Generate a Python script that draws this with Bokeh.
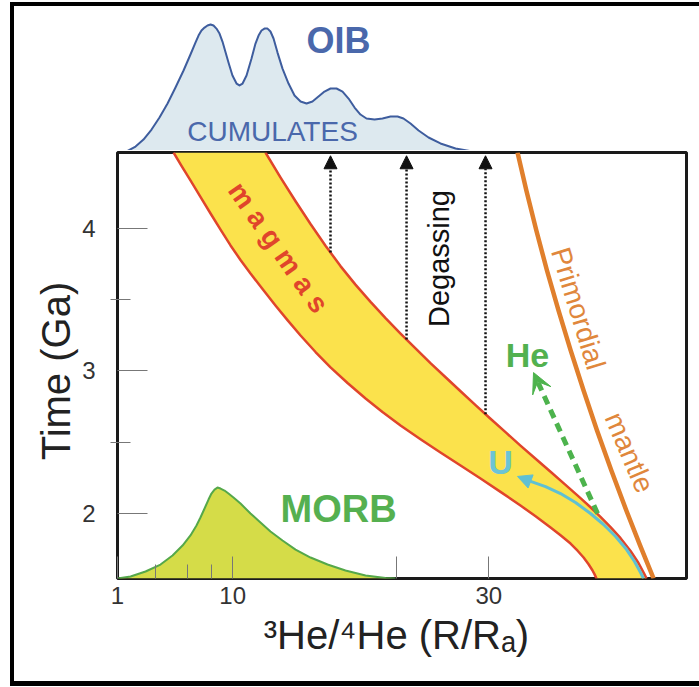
import numpy as np
from bokeh.plotting import figure
from bokeh.layouts import column, row
from bokeh.models import (ColumnDataSource, FixedTicker, Arrow, NormalHead, VeeHead, Range1d, Spacer)
from bokeh.embed import file_html
from bokeh.resources import INLINE
from bokeh.core.properties import value

FONT = "Liberation Sans"

# ---------------- data ----------------
x_ticks = [1, 10, 22.8, 30]
x_tick_labels = {1: "1", 10: "10", 22.8: "", 30: "30"}
x_minor_ticks = [3.97, 6.47, 8.34]
y_ticks = [2, 3, 4]
y_minor_ticks = [2.5, 3.5]

# OIB distribution (relative frequency), drawn above the main panel
oib_x = [1.39, 1.86, 2.41, 3.03, 3.66, 4.28, 4.91, 5.53, 6.16, 6.70, 7.09, 7.33, 7.56, 7.80,
         8.03, 8.27, 8.50, 8.73, 8.97, 9.20, 9.67, 9.98, 10.30, 10.53, 10.77, 11.08, 11.47,
         11.78, 12.02, 12.25, 12.48, 12.72, 12.95, 13.19, 13.50, 13.89, 14.36, 14.83, 15.30,
         15.77, 16.23, 16.70, 17.17, 17.64, 18.11, 18.58, 19.05, 19.52, 19.98, 20.45, 21.08,
         21.70, 22.33, 22.88, 23.34, 23.89, 24.52, 25.30, 26.23, 27.41, 28.73, 30.14]
oib_f = [0.0, 0.016, 0.047, 0.102, 0.181, 0.276, 0.386, 0.512, 0.646, 0.772, 0.866, 0.921,
         0.961, 0.984, 1.000, 1.008, 1.000, 0.976, 0.937, 0.874, 0.709, 0.606, 0.543, 0.528,
         0.543, 0.606, 0.740, 0.858, 0.921, 0.961, 0.976, 0.976, 0.953, 0.898, 0.787, 0.661,
         0.543, 0.449, 0.402, 0.386, 0.402, 0.441, 0.480, 0.504, 0.504, 0.480, 0.425, 0.354,
         0.299, 0.268, 0.260, 0.268, 0.283, 0.283, 0.268, 0.228, 0.173, 0.118, 0.071, 0.031,
         0.008, 0.0]

# MORB distribution (hump on the time axis)
morb_x = [1.00, 2.02, 3.19, 4.36, 5.30, 6.08, 6.70, 7.17, 7.48, 7.80, 8.11, 8.34, 8.58, 8.81,
          9.05, 9.36, 9.67, 10.06, 10.61, 11.39, 12.17, 12.95, 13.89, 14.91, 16.08, 17.41,
          18.81, 20.38, 21.94, 22.72]
morb_t = [1.544, 1.558, 1.593, 1.642, 1.705, 1.775, 1.846, 1.916, 1.972, 2.035, 2.098, 2.140,
          2.168, 2.182, 2.175, 2.161, 2.140, 2.112, 2.070, 2.000, 1.937, 1.874, 1.811, 1.747,
          1.691, 1.642, 1.600, 1.565, 1.547, 1.544]

# magma band boundaries
band_upper_x = [12.56, 13.73, 14.91, 16.08, 17.25, 18.42, 19.59, 20.77, 21.94, 23.11, 24.28,
                25.45, 26.63, 27.80, 28.97, 30.14, 31.31, 32.48, 33.66, 34.83, 36.00, 37.17,
                37.95, 38.73, 39.52, 40.30, 41.08, 41.70, 42.17, 42.33]
band_upper_t = [4.533, 4.359, 4.191, 4.031, 3.879, 3.736, 3.606, 3.485, 3.371, 3.263, 3.158,
                3.055, 2.956, 2.858, 2.761, 2.665, 2.571, 2.476, 2.384, 2.293, 2.201, 2.108,
                2.044, 1.977, 1.905, 1.827, 1.737, 1.653, 1.573, 1.544]
band_lower_x = [5.38, 6.00, 6.70, 7.48, 8.27, 9.05, 9.83, 10.61, 11.39, 12.33, 13.34, 14.28,
                15.30, 16.47, 17.64, 18.97, 20.38, 21.70, 23.11, 24.67, 26.23, 27.80, 29.36,
                30.92, 32.48, 33.66, 34.83, 35.61, 36.39, 36.94, 37.41, 37.80, 38.11, 38.27,
                38.42]
band_lower_t = [4.533, 4.439, 4.337, 4.221, 4.105, 3.992, 3.881, 3.779, 3.684, 3.575, 3.460,
                3.357, 3.249, 3.133, 3.025, 2.916, 2.807, 2.712, 2.618, 2.521, 2.428, 2.337,
                2.246, 2.152, 2.056, 1.981, 1.902, 1.847, 1.789, 1.739, 1.691, 1.644, 1.600,
                1.573, 1.544]

# primordial mantle
mantle_x = [32.25, 32.94, 33.72, 34.55, 35.45, 36.40, 37.41, 38.46, 39.58, 40.75, 41.83, 42.88]
mantle_t = [4.533, 4.267, 3.986, 3.705, 3.425, 3.144, 2.863, 2.582, 2.302, 2.021, 1.775, 1.544]

# degassing arrows
degas_x = [17.64, 23.58, 29.75]
degas_t0 = [3.832, 3.221, 2.697]
degas_t1 = [4.51, 4.51, 4.51]

# U (cyan) path
u_x = [42.09, 41.86, 41.39, 40.77, 39.91, 38.97, 37.95, 36.78, 35.61, 34.44, 33.27, 32.25]
u_t = [1.544, 1.586, 1.663, 1.747, 1.839, 1.923, 2.000, 2.077, 2.140, 2.189, 2.225, 2.260]

# He (green dashed) arrow
he_x0, he_t0, he_x1, he_t1 = 38.50, 2.000, 33.50, 2.989

# ---------------- figures ----------------
x_range = Range1d(1, 45.45)

top = figure(width=685, height=144, x_range=x_range, y_range=Range1d(0.0157, 1.15),
             x_axis_type=None, y_axis_type=None, output_backend="svg", toolbar_location=None,
             min_border_left=103, min_border_right=13, min_border_top=0, min_border_bottom=0)
top.grid.visible = False
top.outline_line_color = None

top.varea(x=oib_x, y1=[0] * len(oib_x), y2=oib_f, fill_color="#dde9ef")
top.line(oib_x, oib_f, line_color="#3e5d9e", line_width=2, line_join="round")
top.text(x=[18.27], y=[0.882], text=["OIB"], text_font=value(FONT), text_font_style="bold",
         text_font_size="36px", text_color="#4a68ab", text_align="center", text_baseline="middle")
top.text(x=[13.11], y=[0.165], text=["CUMULATES"], text_font=value(FONT),
         text_font_size="28px", text_color="#4a68ab", text_align="center", text_baseline="middle")

p = figure(width=685, height=531, x_range=x_range, y_range=Range1d(1.544, 4.533),
           output_backend="svg", toolbar_location=None,
           min_border_left=103, min_border_right=13, min_border_top=2, min_border_bottom=103)
p.grid.visible = False
p.outline_line_color = "#1a1a1a"
p.outline_line_width = 3

# MORB hump
p.varea(x=morb_x, y1=[1.544] * len(morb_x), y2=morb_t, fill_color="#d5dc48")
p.line(morb_x, morb_t, line_color="#55a84a", line_width=2, line_join="round")

# magma band
p.patch(band_upper_x + band_lower_x[::-1], band_upper_t + band_lower_t[::-1],
        fill_color="#fbe24c", line_color=None)
p.line(band_upper_x, band_upper_t, line_color="#e0452b", line_width=2.5, line_join="round")
p.line(band_lower_x, band_lower_t, line_color="#e0452b", line_width=2.5, line_join="round")

# primordial mantle
p.line(mantle_x, mantle_t, line_color="#e07f2c", line_width=4.5, line_join="round")

# degassing arrows
dsrc = ColumnDataSource(dict(x=degas_x, y0=degas_t0, y1=degas_t1))
p.add_layout(Arrow(source=dsrc, x_start="x", y_start="y0", x_end="x", y_end="y1",
                   line_color="#111111", line_width=2.5, line_dash="2 2",
                   end=NormalHead(size=13, fill_color="#111111", line_color="#111111")))

# U path
p.line(u_x[:-1], u_t[:-1], line_color="#5fc0d3", line_width=3, line_join="round")
p.add_layout(Arrow(x_start=u_x[-2], y_start=u_t[-2], x_end=u_x[-1], y_end=u_t[-1],
                   line_color="#5fc0d3", line_width=3,
                   end=NormalHead(size=14, fill_color="#5fc0d3", line_color="#5fc0d3")))

# He arrow
p.add_layout(Arrow(x_start=he_x0, y_start=he_t0, x_end=he_x1, y_end=he_t1,
                   line_color="#4db34d", line_width=5, line_dash="9 6",
                   end=VeeHead(size=20, fill_color="#4db34d", line_color="#4db34d")))

def label(x, y, t, size, color, bold=False, angle=0.0):
    p.text(x=[x], y=[y], text=[t], angle=angle, text_font=value(FONT),
           text_font_style="bold" if bold else "normal", text_font_size=size,
           text_color=color, text_align="center", text_baseline="middle")

label(13.58, 3.867, "m a g m a s", "28px", "#e0452b", bold=True, angle=np.deg2rad(-55))
label(26.08, 3.789, "Degassing", "29px", "#111111", angle=np.pi / 2)
label(37.00, 3.439, "Primordial", "28px", "#e0873c", angle=np.deg2rad(-73))
label(41.00, 2.428, "mantle", "28px", "#e0873c", angle=np.deg2rad(-67))
label(33.03, 3.109, "He", "34px", "#52b14f", bold=True)
label(30.92, 2.358, "U", "34px", "#6cc4d6", bold=True)
label(18.27, 2.035, "MORB", "38px", "#55b050", bold=True)

# axes
p.xaxis.ticker = FixedTicker(ticks=x_ticks, minor_ticks=x_minor_ticks)
p.xaxis.major_label_overrides = x_tick_labels
p.yaxis.ticker = FixedTicker(ticks=y_ticks, minor_ticks=y_minor_ticks)
for ax in (p.xaxis[0], p.yaxis[0]):
    ax.axis_line_color = None
    ax.major_tick_out = 0
    ax.major_tick_line_color = "#777777"
    ax.minor_tick_line_color = "#777777"
    ax.major_label_text_font = FONT
    ax.major_label_text_font_size = "24px"
    ax.major_label_text_color = "#333333"
    ax.axis_label_text_font = FONT
    ax.axis_label_text_font_style = "normal"
    ax.axis_label_text_color = "#222222"
p.xaxis.major_tick_in = 22
p.xaxis.minor_tick_in = 14
p.xaxis.minor_tick_out = 0
p.xaxis.major_label_standoff = 8
p.xaxis.axis_label = "³He/⁴He  (R/Rₐ)"
p.xaxis.axis_label_text_font_size = "40px"
p.xaxis.axis_label_standoff = 6
p.yaxis.major_tick_in = 30
p.yaxis.minor_tick_in = 13
p.yaxis.minor_tick_out = 7
p.yaxis.major_label_standoff = 15
p.yaxis.axis_label = "Time  (Ga)"
p.yaxis.axis_label_text_font_size = "40px"
p.yaxis.axis_label_standoff = 1

# outer black frame (left, top, bottom sides) built from black spacers
BLACK = {"background-color": "black"}
left_bar = Spacer(width=4, height=684, styles=BLACK)
top_bar = Spacer(width=685, height=4, styles=BLACK)
bottom_bar = Spacer(width=685, height=5, styles=BLACK)
inner = column(top_bar, top, p, bottom_bar, spacing=0)
layout = column(Spacer(width=699, height=2),
                row(Spacer(width=10, height=684), left_bar, inner, spacing=0),
                spacing=0)

open("out.html", "w").write(file_html(layout, INLINE))
